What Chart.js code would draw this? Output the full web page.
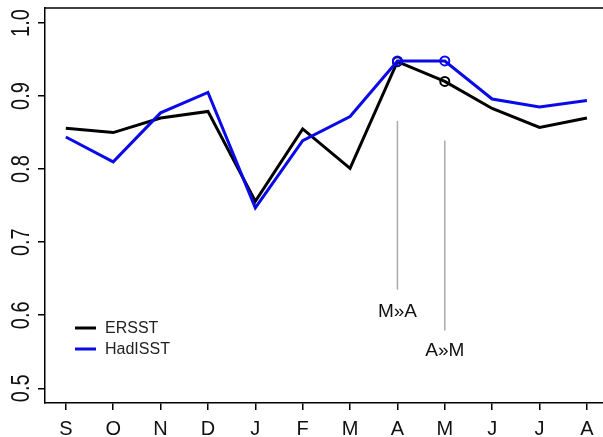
<!DOCTYPE html>
<html>
<head>
<meta charset="utf-8">
<script src="https://cdn.jsdelivr.net/npm/chart.js@4.4.1/dist/chart.umd.min.js"></script>
<style>
  html, body { margin: 0; padding: 0; background: #fff; }
  #wrap { width: 603px; height: 437px; position: relative; }
</style>
</head>
<body>
<div id="wrap"><canvas id="chart"></canvas></div>
<script>
const months = ["S", "O", "N", "D", "J", "F", "M", "A", "M", "J", "J", "A"];
const ersst = [0.856, 0.850, 0.870, 0.879, 0.756, 0.855, 0.801, 0.947, 0.920, 0.883, 0.857, 0.870];
const hadisst = [0.844, 0.810, 0.877, 0.905, 0.747, 0.839, 0.872, 0.948, 0.948, 0.896, 0.885, 0.894];
const yTicks = [0.5, 0.6, 0.7, 0.8, 0.9, 1.0];
const seriesNames = ["ERSST", "HadISST"];
const markedMonths = [8, 9]; // circled points (A, M)
const notes = [
  { text: "M»A", month: 8, from: 0.866, to: 0.635, textAt: 0.605 },
  { text: "A»M", month: 9, from: 0.839, to: 0.579, textAt: 0.551 }
];

const BLACK = "#000000";
const BLUE = "#0a0ae8";
const FONT = '"Liberation Sans", Arial, Helvetica, sans-serif';

const toPoints = (vals) => vals.map((v, i) => ({ x: i + 1, y: v }));
const radii = months.map((m, i) => (markedMonths.includes(i + 1) ? 4.5 : 0));

const decor = {
  id: "decor",
  afterDraw(chart) {
    const { ctx, chartArea: a, scales: { x, y } } = chart;
    ctx.save();

    // top frame line
    ctx.strokeStyle = "#000";
    ctx.lineWidth = 1.5;
    ctx.beginPath();
    ctx.moveTo(a.left, a.top);
    ctx.lineTo(a.right, a.top);
    ctx.stroke();

    // rotated y tick labels
    ctx.fillStyle = "#111";
    ctx.font = "20px " + FONT;
    ctx.textAlign = "center";
    ctx.textBaseline = "middle";
    yTicks.forEach(v => {
      ctx.save();
      ctx.translate(22, y.getPixelForValue(v));
      ctx.rotate(-Math.PI / 2);
      ctx.scale(1, 1.25);
      ctx.fillText(v.toFixed(1), 0, 0);
      ctx.restore();
    });

    // shift annotations
    ctx.strokeStyle = "#aaaaaa";
    ctx.lineWidth = 1.5;
    ctx.font = "19px " + FONT;
    notes.forEach(n => {
      const px = x.getPixelForValue(n.month);
      ctx.beginPath();
      ctx.moveTo(px, y.getPixelForValue(n.from));
      ctx.lineTo(px, y.getPixelForValue(n.to));
      ctx.stroke();
      ctx.fillText(n.text, px, y.getPixelForValue(n.textAt));
    });

    // legend
    const colors = [BLACK, BLUE];
    ctx.font = "16px " + FONT;
    ctx.textAlign = "left";
    ctx.lineWidth = 3;
    seriesNames.forEach((name, i) => {
      const ly = 328 + i * 21;
      ctx.strokeStyle = colors[i];
      ctx.beginPath();
      ctx.moveTo(75, ly);
      ctx.lineTo(96, ly);
      ctx.stroke();
      ctx.fillStyle = "#222";
      ctx.fillText(name, 105, ly + 1);
    });

    ctx.restore();
  }
};

new Chart(document.getElementById("chart"), {
  type: "line",
  data: {
    datasets: [
      {
        label: seriesNames[0],
        data: toPoints(ersst),
        borderColor: BLACK,
        borderWidth: 3,
        tension: 0,
        pointRadius: radii,
        pointBorderWidth: 2,
        pointBorderColor: BLACK,
        pointBackgroundColor: "rgba(0,0,0,0)",
        order: 2
      },
      {
        label: seriesNames[1],
        data: toPoints(hadisst),
        borderColor: BLUE,
        borderWidth: 3,
        tension: 0,
        pointRadius: radii,
        pointBorderWidth: 2,
        pointBorderColor: BLUE,
        pointBackgroundColor: "rgba(0,0,0,0)",
        order: 1
      }
    ]
  },
  options: {
    responsive: true,
    maintainAspectRatio: false,
    animation: false,
    layout: { padding: { top: 8, right: 0, left: 0, bottom: 0 } },
    plugins: { legend: { display: false }, tooltip: { enabled: false } },
    scales: {
      x: {
        type: "linear",
        min: 0.56,
        max: 12.34,
        afterBuildTicks: (s) => { s.ticks = months.map((m, i) => ({ value: i + 1 })); },
        afterFit: (s) => { s.height = 34; },
        ticks: {
          callback: (v) => months[Math.round(v) - 1],
          color: "#111",
          font: { family: FONT, size: 20 },
          padding: 7,
          maxRotation: 0,
          autoSkip: false
        },
        grid: { drawOnChartArea: false, drawTicks: true, tickLength: 7, color: "#000", lineWidth: 1.5 },
        border: { display: true, color: "#000", width: 1.5 }
      },
      y: {
        type: "linear",
        min: 0.4799,
        max: 1.0205,
        afterBuildTicks: (s) => { s.ticks = yTicks.map(v => ({ value: v })); },
        afterFit: (s) => { s.width = 45; },
        ticks: { display: false },
        grid: { drawOnChartArea: false, drawTicks: true, tickLength: 7, color: "#000", lineWidth: 1.5 },
        border: { display: true, color: "#000", width: 1.5 }
      }
    }
  },
  plugins: [decor]
});
</script>
</body>
</html>
